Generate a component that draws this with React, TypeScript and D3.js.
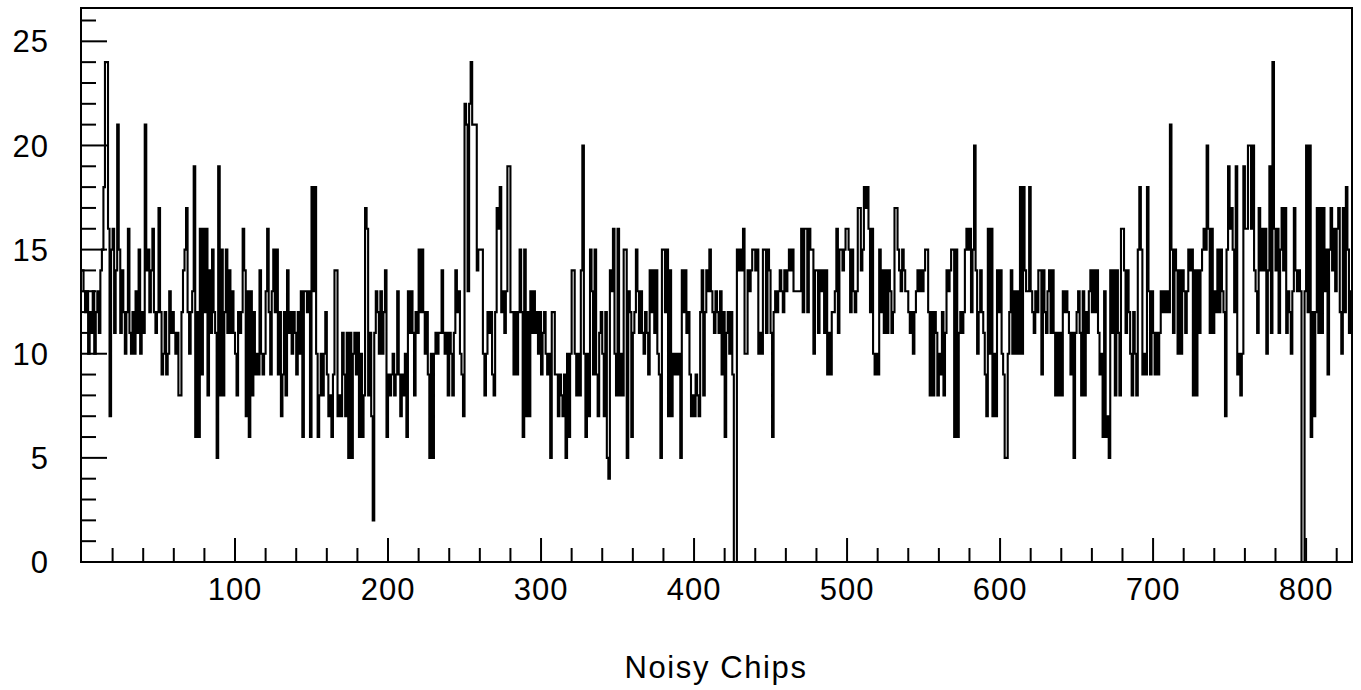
import React from "react";
import * as d3 from "d3";

// Noisy chip counts per bin (830 bins, 0..829)
const countsA = [
  14,13,12,13,10,12,11,13,10,12, 13,11,14,15,18,24,24,16,7,15,
  16,11,14,21,15,11,14,12,10,12, 16,11,10,12,10,13,11,15,10,12,
  11,21,14,15,12,14,16,12,11,12, 17,12,9,10,12,9,10,13,11,12,
  11,10,11,8,8,12,14,15,17,12, 10,12,13,19,6,12,6,16,9,16,
  12,16,8,14,11,15,12,11,5,19, 8,15,8,12,15,11,14,11,13,11,
  10,8,12,11,12,16,14,7,13,6, 13,8,12,9,10,9,14,10,9,10,
  13,16,12,9,13,15,12,15,9,12, 7,9,12,8,14,11,12,10,12,11,
  9,12,10,13,6,13,13,12,13,6, 18,13,18,10,6,8,10,8,10,12,
  9,7,8,6,9,14,14,7,8,7, 11,9,7,11,5,11,5,10,11,9,
  11,6,10,6,8,17,16,8,11,7, 2,11,13,12,10,13,10,12,14,6,
];
const countsB = [
  9,8,9,10,8,9,13,9,7,9, 8,10,6,13,11,13,11,8,12,11,
  15,12,15,12,10,12,9,5,10,5, 10,11,10,11,11,14,11,10,11,8,
  11,10,8,11,14,12,13,10,9,7, 22,21,13,22,24,21,21,21,14,15,
  15,15,10,8,10,12,11,12,9,8, 12,17,16,18,12,13,11,13,19,19,
  12,12,9,12,9,12,15,12,6,15, 7,12,7,13,11,13,11,12,10,12,
  9,11,12,10,9,10,5,12,12,9, 9,7,9,8,7,9,5,10,6,10,
  14,14,10,8,10,8,14,20,10,6, 10,7,15,13,9,15,9,7,11,12,
  10,7,12,5,4,14,13,16,10,8, 16,8,10,8,15,15,5,13,12,6,
  11,12,15,13,11,13,11,10,12,11, 9,14,12,14,11,14,10,9,5,15,
  15,12,15,7,14,7,10,9,10,9, 10,5,14,12,14,11,12,9,7,8,
];
const countsC = [
  7,9,8,7,12,14,8,12,14,13, 15,13,12,11,13,12,11,13,9,12,
  6,11,12,10,12,9,0,0,15,14, 15,14,16,10,10,14,13,14,15,15,
  14,15,10,11,10,15,15,11,15,14, 11,6,12,13,12,13,14,13,12,14,
  13,14,15,14,15,13,13,13,13,13, 16,12,16,16,12,16,15,15,10,14,
  14,11,14,13,14,11,14,9,11,9, 12,12,13,16,11,15,15,14,15,16,
  16,15,12,15,13,12,13,17,17,14, 15,18,17,18,16,12,16,10,9,10,
  9,15,12,14,11,14,11,14,13,11, 12,17,17,15,14,13,15,14,13,13,
  12,11,12,10,12,13,14,13,14,13, 14,15,15,12,8,12,8,12,11,8,
  10,9,12,8,11,14,13,14,15,15, 6,15,6,11,12,11,12,15,16,15,
  16,12,15,20,14,10,12,14,12,11, 9,7,16,10,16,7,10,7,14,12,
];
const countsD = [
  14,10,9,5,5,10,12,14,10,13, 10,13,10,18,10,18,14,13,13,18,
  13,12,11,13,12,14,14,9,14,12, 11,13,14,11,14,11,8,11,8,11,
  8,13,12,13,12,11,9,11,5,11, 12,13,11,8,13,8,12,11,13,14,
  12,14,12,14,11,9,10,6,13,6, 7,5,14,11,14,8,14,11,8,16,
  16,14,11,14,12,10,8,12,10,8, 15,18,15,9,10,9,18,13,9,13,
  11,9,11,9,11,13,12,13,12,13, 12,21,15,11,15,14,10,14,10,14,
  13,11,13,15,14,15,8,14,8,14, 11,14,15,16,15,20,16,11,16,11,
  13,12,15,12,15,13,12,7,15,19, 16,17,15,12,19,9,10,8,10,19,
  16,16,20,20,16,20,14,13,11,17, 14,16,14,16,10,14,19,11,24,16,
  14,16,11,15,17,14,17,11,13,12, 10,13,17,14,13,14,13,0,0,13,
  20,12,20,6,12,7,12,17,11,17, 11,17,13,15,9,15,17,14,16,13,
  16,17,12,10,17,12,18,15,11,13,
];

const yTickLabels = [0, 5, 10, 15, 20, 25];
const xTickLabels = [100, 200, 300, 400, 500, 600, 700, 800];
const xTitle = "Noisy Chips";

const counts = [...countsA, ...countsB, ...countsC, ...countsD];
const NB = counts.length;

export default function App() {
  const x = d3.scaleLinear().domain([0, NB]).range([82, 1352]);
  const y = d3.scaleLinear().domain([0, 26.6]).range([562, 8]);

  const pts: [number, number][] = [];
  counts.forEach((v, i) => {
    pts.push([i, v]);
    pts.push([i + 1, v]);
  });
  const line = d3
    .line<[number, number]>()
    .x((d) => x(d[0]))
    .y((d) => y(d[1]));
  const path = line(pts) || "";

  const yMinor = d3.range(0, 27);
  const xMinor = d3.range(20, NB, 20);
  const font = "'Liberation Sans', Arial, Helvetica, sans-serif";

  return (
    <svg
      width={1361}
      height={690}
      style={{ position: "absolute", left: 0, top: 0, background: "#fff" }}
    >
      <path d={path} fill="none" stroke="#000" strokeWidth={2.1} />
      <rect
        x={81}
        y={8}
        width={1271}
        height={554}
        fill="none"
        stroke="#000"
        strokeWidth={2}
      />
      {yMinor.map((t) => (
        <line
          key={"yt" + t}
          x1={81}
          x2={81 + (t % 5 === 0 ? 26 : 15)}
          y1={y(t)}
          y2={y(t)}
          stroke="#000"
          strokeWidth={2}
        />
      ))}
      {xMinor.map((t) => (
        <line
          key={"xt" + t}
          x1={x(t)}
          x2={x(t)}
          y1={562}
          y2={562 - (t % 100 === 0 ? 24 : 14)}
          stroke="#000"
          strokeWidth={2}
        />
      ))}
      {yTickLabels.map((t) => (
        <text
          key={"yl" + t}
          x={49}
          y={y(t)}
          dy="0.36em"
          textAnchor="end"
          fontFamily={font}
          fontSize={31}
          letterSpacing={1}
          fill="#000"
        >
          {t}
        </text>
      ))}
      {xTickLabels.map((t) => (
        <text
          key={"xl" + t}
          x={x(t)}
          y={600}
          textAnchor="middle"
          fontFamily={font}
          fontSize={31}
          letterSpacing={1}
          fill="#000"
        >
          {t}
        </text>
      ))}
      <text
        x={716}
        y={678}
        textAnchor="middle"
        fontFamily={font}
        fontSize={31}
        letterSpacing={1.6}
        fill="#000"
      >
        {xTitle}
      </text>
    </svg>
  );
}
